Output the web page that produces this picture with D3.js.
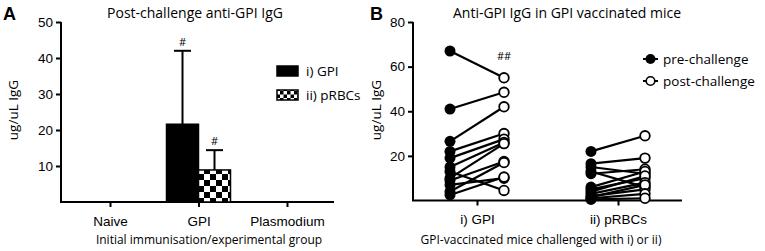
<!DOCTYPE html>
<html>
<head>
<meta charset="utf-8">
<title>Anti-GPI IgG</title>
<script src="https://d3js.org/d3.v7.min.js"></script>
<style>
  body { margin: 0; background: #fff; }
  svg { display: block; font-family: "Open Sans", sans-serif; }
  .axis text { font-size: 13.5px; fill: #000; }
</style>
</head>
<body>
<script>
// ---- panel A data
var groupsA = ["Naive", "GPI", "Plasmodium"];
var seriesA = ["i) GPI", "ii) pRBCs"];
var meanGPI = [0, 21.6, 0];
var meanPRBC = [0, 8.9, 0];
var errGPI = [0, 42, 0];     // top of error bar
var errPRBC = [0, 14.4, 0];
var ticksA = [10, 20, 30, 40, 50];

// ---- panel B data
var groupsB = ["i) GPI", "ii) pRBCs"];
var preGPI  = [67, 41, 26.5, 22, 19, 15, 13, 10, 9, 7, 4, 2.5];
var postGPI = [55, 48.5, 42, 30, 27.5, 26, 4.5, 25.5, 17.5, 10, 17, 10.5];
var prePRBC  = [22, 16.5, 15, 13, 12, 6, 5, 4, 3, 2, 1.5, 1, 0.5];
var postPRBC = [29, 19, 12, 6, 14, 13, 10, 11, 8, 5, 7, 3, 1];
var ticksB = [20, 40, 60, 80];

var svg = d3.select("body").append("svg")
  .attr("width", 765).attr("height", 251);

var defs = svg.append("defs");
function checker(id, s) {
  var p = defs.append("pattern").attr("id", id)
    .attr("patternUnits", "userSpaceOnUse")
    .attr("width", s * 2).attr("height", s * 2);
  p.append("rect").attr("width", s * 2).attr("height", s * 2).attr("fill", "#fff");
  p.append("rect").attr("width", s).attr("height", s).attr("fill", "#000");
  p.append("rect").attr("x", s).attr("y", s).attr("width", s).attr("height", s).attr("fill", "#000");
}
checker("chk", 6);
checker("chkSmall", 3.5);

function styleAxis(g) {
  g.selectAll("path, line").attr("stroke", "#000").attr("stroke-width", 2);
}

// ================= Panel A =================
var gA = svg.append("g");
var yA = d3.scaleLinear().domain([0, 50]).range([202, 22]);
var xA = d3.scalePoint().domain(groupsA).range([110, 287]);

gA.append("text").attr("x", 3).attr("y", 20)
  .style("font-weight", "bold").style("font-size", "18px").style("font-family", "Arial, sans-serif").text("A");
gA.append("text").attr("x", 195).attr("y", 18).attr("text-anchor", "middle")
  .style("font-size", "14px").text("Post-challenge anti-GPI IgG");

gA.append("g").attr("class", "axis").attr("transform", "translate(61,0)")
  .call(d3.axisLeft(yA).tickValues(ticksA).tickSize(5).tickPadding(3))
  .call(function (g) { g.select(".domain").attr("d", "M0," + yA(50) + "V" + yA(0)); })
  .call(styleAxis);

var axA = gA.append("g").attr("class", "axis").attr("transform", "translate(0," + yA(0) + ")")
  .call(d3.axisBottom(xA).tickSize(5).tickPadding(9))
  .call(styleAxis);
axA.select(".domain").attr("d", "M60,0H334");

gA.append("text").attr("transform", "translate(18,110) rotate(-90)")
  .attr("text-anchor", "middle").style("font-size", "13.5px").text("ug/uL IgG");
gA.append("text").attr("x", 209).attr("y", 244).attr("text-anchor", "middle")
  .style("font-size", "12px").text("Initial immunisation/experimental group");

var bw = 32;
var barsA = [
  { vals: meanGPI, errs: errGPI, off: -bw / 2, fill: "#000" },
  { vals: meanPRBC, errs: errPRBC, off: bw / 2, fill: "url(#chk)" }
];
barsA.forEach(function (s) {
  var data = groupsA.map(function (g, i) { return { g: g, v: s.vals[i], e: s.errs[i] }; })
    .filter(function (d) { return d.v > 0; });
  gA.selectAll(null).data(data).enter().append("line")
    .attr("x1", function (d) { return xA(d.g) + s.off; })
    .attr("x2", function (d) { return xA(d.g) + s.off; })
    .attr("y1", function (d) { return yA(d.v); })
    .attr("y2", function (d) { return yA(d.e); })
    .attr("stroke", "#000").attr("stroke-width", 2);
  gA.selectAll(null).data(data).enter().append("line")
    .attr("x1", function (d) { return xA(d.g) + s.off - 8.5; })
    .attr("x2", function (d) { return xA(d.g) + s.off + 8.5; })
    .attr("y1", function (d) { return yA(d.e); })
    .attr("y2", function (d) { return yA(d.e); })
    .attr("stroke", "#000").attr("stroke-width", 2);
  gA.selectAll(null).data(data).enter().append("rect")
    .attr("x", function (d) { return xA(d.g) + s.off - bw / 2; })
    .attr("y", function (d) { return yA(d.v); })
    .attr("width", bw)
    .attr("height", function (d) { return yA(0) - yA(d.v); })
    .attr("fill", s.fill).attr("stroke", "#000").attr("stroke-width", 1.5);
  gA.selectAll(null).data(data).enter().append("text")
    .attr("x", function (d) { return xA(d.g) + s.off; })
    .attr("y", function (d) { return yA(d.e) - 5; })
    .attr("text-anchor", "middle").style("font-size", "11px").text("#");
});

// legend A
seriesA.forEach(function (name, i) {
  var y = 66 + i * 24;
  gA.append("rect").attr("x", 277).attr("y", y).attr("width", 21).attr("height", 10)
    .attr("fill", i === 0 ? "#000" : "url(#chkSmall)").attr("stroke", "#000").attr("stroke-width", 1.5);
  gA.append("text").attr("x", 306).attr("y", y + 10).style("font-size", "13.5px").text(name);
});

// ================= Panel B =================
var gB = svg.append("g");
var yB = d3.scaleLinear().domain([0, 80]).range([200.5, 22]);
var xB = d3.scalePoint().domain(groupsB).range([477, 618]);
var dx = 27;

gB.append("text").attr("x", 370).attr("y", 20)
  .style("font-weight", "bold").style("font-size", "18px").style("font-family", "Arial, sans-serif").text("B");
gB.append("text").attr("x", 567).attr("y", 18).attr("text-anchor", "middle")
  .style("font-size", "14px").text("Anti-GPI IgG in GPI vaccinated mice");

gB.append("g").attr("class", "axis").attr("transform", "translate(413,0)")
  .call(d3.axisLeft(yB).tickValues(ticksB).tickSize(5).tickPadding(3))
  .call(function (g) { g.select(".domain").attr("d", "M0," + yB(80) + "V" + yB(0)); })
  .call(styleAxis);

var axB = gB.append("g").attr("class", "axis").attr("transform", "translate(0," + yB(0) + ")")
  .call(d3.axisBottom(xB).tickSize(5).tickPadding(9))
  .call(styleAxis);
axB.select(".domain").attr("d", "M412,0H682");

gB.append("text").attr("transform", "translate(381,110) rotate(-90)")
  .attr("text-anchor", "middle").style("font-size", "13.5px").text("ug/uL IgG");
gB.append("text").attr("x", 541).attr("y", 244).attr("text-anchor", "middle")
  .style("font-size", "12px").text("GPI-vaccinated mice challenged with i) or ii)");

var pairs = [];
preGPI.forEach(function (v, i) { pairs.push({ g: groupsB[0], pre: v, post: postGPI[i] }); });
prePRBC.forEach(function (v, i) { pairs.push({ g: groupsB[1], pre: v, post: postPRBC[i] }); });

gB.selectAll(null).data(pairs).enter().append("line")
  .attr("x1", function (d) { return xB(d.g) - dx; })
  .attr("x2", function (d) { return xB(d.g) + dx; })
  .attr("y1", function (d) { return yB(d.pre); })
  .attr("y2", function (d) { return yB(d.post); })
  .attr("stroke", "#000").attr("stroke-width", 2.2);
gB.selectAll(null).data(pairs).enter().append("circle")
  .attr("cx", function (d) { return xB(d.g) - dx; })
  .attr("cy", function (d) { return yB(d.pre); })
  .attr("r", 5.5).attr("fill", "#000");
gB.selectAll(null).data(pairs).enter().append("circle")
  .attr("cx", function (d) { return xB(d.g) + dx; })
  .attr("cy", function (d) { return yB(d.post); })
  .attr("r", 4.8).attr("fill", "#fff").attr("stroke", "#000").attr("stroke-width", 1.8);

gB.append("text").attr("x", xB(groupsB[0]) + dx).attr("y", yB(d3.max(postGPI)) - 18)
  .attr("text-anchor", "middle").style("font-size", "11px").text("##");

// legend B
["pre-challenge", "post-challenge"].forEach(function (name, i) {
  var y = 59 + i * 22;
  gB.append("line").attr("x1", 643).attr("x2", 658).attr("y1", y).attr("y2", y)
    .attr("stroke", "#000").attr("stroke-width", 2);
  gB.append("circle").attr("cx", 650.5).attr("cy", y).attr("r", i === 0 ? 5 : 4.3)
    .attr("fill", i === 0 ? "#000" : "#fff").attr("stroke", "#000").attr("stroke-width", i === 0 ? 0 : 1.6);
  gB.append("text").attr("x", 663).attr("y", y + 5).style("font-size", "13.5px").text(name);
});
</script>
</body>
</html>
